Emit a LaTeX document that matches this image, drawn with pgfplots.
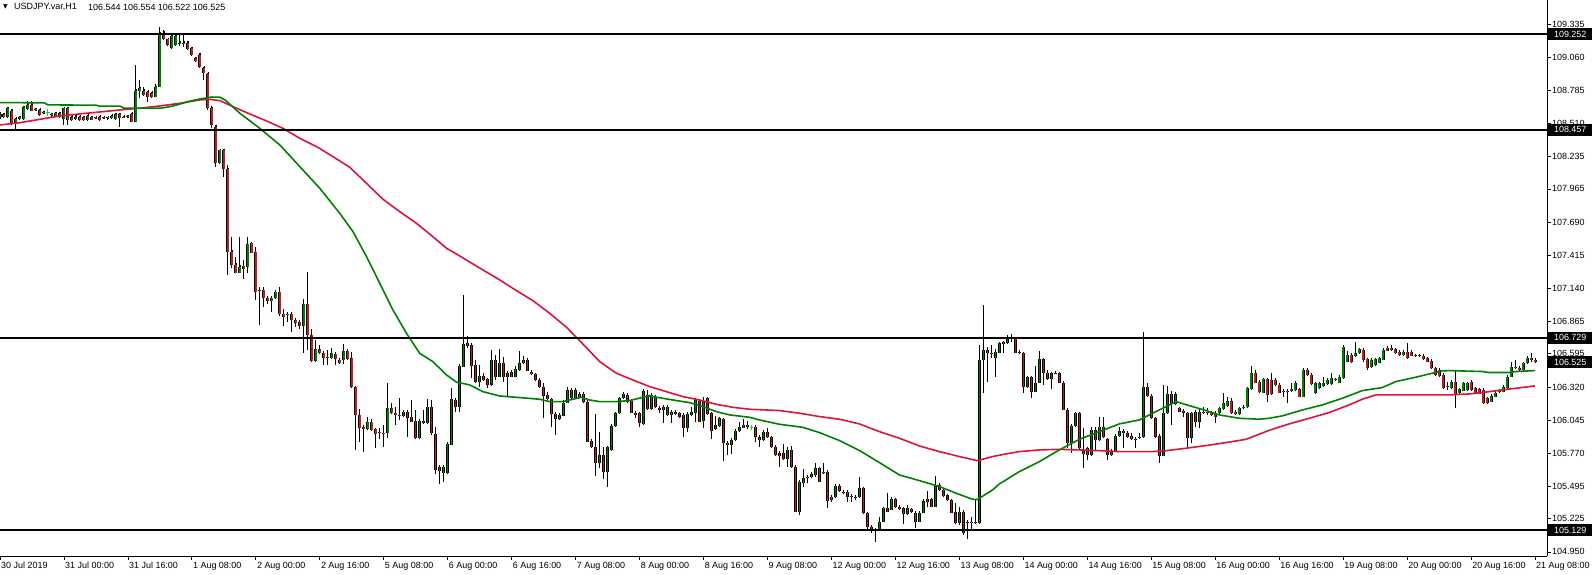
\documentclass[border=0pt]{standalone}
\usepackage{fontspec}
\setmainfont{Liberation Sans}
\newfontfamily\dejavu{DejaVu Sans}
\usepackage{pgfplots}
\pgfplotsset{compat=1.18}
\usepackage{pgfplotstable}

\definecolor{bull}{RGB}{0,128,0}
\definecolor{bear}{RGB}{178,34,34}
\definecolor{maGreen}{RGB}{0,128,0}
\definecolor{maRed}{RGB}{220,20,60}
\definecolor{dojiLime}{RGB}{0,230,0}

% hourly candles, bar 0 = 30 Jul 08:00
\pgfplotstableread{
x o h l c
0 108.565 108.600 108.545 108.585
1 108.585 108.595 108.550 108.560
2 108.560 108.645 108.555 108.635
3 108.615 108.625 108.495 108.510
4 108.510 108.550 108.446 108.546
5 108.546 108.570 108.535 108.560
6 108.548 108.655 108.540 108.643
7 108.626 108.698 108.620 108.662
8 108.662 108.698 108.610 108.615
9 108.620 108.636 108.610 108.626
10 108.621 108.630 108.570 108.579
11 108.600 108.612 108.585 108.594
12 108.597 108.626 108.571 108.597
13 108.585 108.592 108.565 108.576
14 108.566 108.600 108.560 108.593
15 108.593 108.600 108.553 108.560
16 108.546 108.640 108.496 108.635
17 108.635 108.645 108.496 108.538
18 108.540 108.570 108.530 108.565
19 108.565 108.575 108.538 108.545
20 108.565 108.572 108.530 108.538
21 108.560 108.570 108.525 108.538
22 108.540 108.578 108.530 108.571
23 108.560 108.570 108.535 108.541
24 108.552 108.566 108.545 108.560
25 108.565 108.572 108.533 108.538
26 108.553 108.565 108.548 108.560
27 108.560 108.566 108.535 108.557
28 108.550 108.578 108.545 108.571
29 108.543 108.592 108.538 108.585
30 108.585 108.592 108.482 108.557
31 108.557 108.572 108.550 108.566
32 108.565 108.580 108.552 108.569
33 108.588 108.592 108.520 108.524
34 108.524 108.995 108.520 108.781
35 108.781 108.870 108.718 108.800
36 108.781 108.815 108.735 108.745
37 108.773 108.780 108.690 108.731
38 108.765 108.770 108.718 108.726
39 108.731 108.837 108.725 108.809
40 108.815 109.307 108.810 109.257
41 109.263 109.285 109.200 109.208
42 109.208 109.212 109.150 109.161
43 109.133 109.250 109.128 109.238
44 109.161 109.245 109.155 109.238
45 109.175 109.245 109.152 109.180
46 109.180 109.245 109.145 109.174
47 109.180 109.190 109.120 109.124
48 109.133 109.140 109.070 109.078
49 109.050 109.060 109.020 109.025
50 109.078 109.091 108.967 108.981
51 108.973 108.980 108.870 108.926
52 108.920 108.926 108.620 108.635
53 108.635 108.650 108.468 108.496
54 108.482 108.496 108.150 108.180
55 108.180 108.292 108.175 108.288
56 108.288 108.295 108.060 108.128
57 108.128 108.165 107.250 107.444
58 107.444 107.568 107.305 107.333
59 107.333 107.402 107.264 107.270
60 107.270 107.568 107.264 107.319
61 107.322 107.375 107.214 107.300
62 107.314 107.563 107.264 107.508
63 107.513 107.527 107.430 107.436
64 107.444 107.485 107.042 107.112
65 107.120 107.153 106.835 107.128
66 107.125 107.153 106.987 107.056
67 107.060 107.070 107.009 107.037
68 107.037 107.070 106.940 107.060
69 107.056 107.125 107.050 107.112
70 107.106 107.148 106.910 106.926
71 106.930 106.965 106.826 106.900
72 106.915 106.945 106.862 106.922
73 106.926 106.935 106.780 106.880
74 106.880 106.890 106.820 106.854
75 106.862 106.870 106.798 106.826
76 106.826 107.048 106.600 107.009
77 107.009 107.278 106.627 106.752
78 106.752 106.799 106.530 106.538
79 106.538 106.710 106.530 106.632
80 106.632 106.670 106.595 106.600
81 106.605 106.612 106.502 106.558
82 106.566 106.627 106.502 106.558
83 106.558 106.641 106.550 106.599
84 106.594 106.600 106.502 106.550
85 106.544 106.550 106.510 106.516
86 106.544 106.677 106.510 106.621
87 106.621 106.630 106.540 106.549
88 106.558 106.613 106.310 106.317
89 106.317 106.325 105.796 106.087
90 106.087 106.141 105.865 105.976
91 105.990 106.000 105.783 105.968
92 105.968 106.072 105.960 106.031
93 106.031 106.058 105.955 105.962
94 105.968 105.975 105.810 105.930
95 105.944 105.980 105.885 105.938
96 105.940 106.008 105.825 105.936
97 105.935 106.350 105.893 106.143
98 106.143 106.184 106.095 106.100
99 106.100 106.156 106.004 106.087
100 106.090 106.225 106.045 106.083
101 106.080 106.125 106.070 106.115
102 106.115 106.125 105.907 106.060
103 106.068 106.212 106.025 106.031
104 106.040 106.128 105.885 105.893
105 105.893 106.045 105.888 106.040
106 106.020 106.128 106.010 106.040
107 106.020 106.217 106.010 106.150
108 106.150 106.212 105.925 105.935
109 105.930 105.990 105.600 105.630
110 105.658 105.670 105.514 105.625
111 105.603 105.665 105.530 105.658
112 105.603 105.864 105.598 105.846
113 105.840 106.310 105.835 106.217
114 106.212 106.230 106.115 106.151
115 106.151 106.512 106.115 106.495
116 106.489 107.084 106.489 106.677
117 106.688 106.744 106.641 106.660
118 106.669 106.680 106.392 106.495
119 106.503 106.545 106.351 106.364
120 106.364 106.503 106.323 106.411
121 106.410 106.440 106.370 106.380
122 106.384 106.395 106.309 106.337
123 106.337 106.628 106.330 106.544
124 106.544 106.586 106.378 106.406
125 106.406 106.633 106.400 106.517
126 106.517 106.567 106.365 106.400
127 106.400 106.450 106.245 106.439
128 106.447 106.460 106.400 106.406
129 106.406 106.490 106.400 106.467
130 106.461 106.619 106.455 106.517
131 106.517 106.578 106.510 106.544
132 106.544 106.550 106.450 106.456
133 106.445 106.461 106.420 106.425
134 106.425 106.430 106.370 106.378
135 106.378 106.385 106.310 106.317
136 106.317 106.350 106.060 106.245
137 106.254 106.281 106.210 106.218
138 106.218 106.225 105.990 106.096
139 106.096 106.115 105.921 106.052
140 106.052 106.095 106.045 106.088
141 106.082 106.212 106.075 106.190
142 106.190 106.317 106.185 106.295
143 106.295 106.309 106.220 106.226
144 106.226 106.309 106.220 106.295
145 106.262 106.273 106.225 106.234
146 106.262 106.270 106.190 106.198
147 106.198 106.205 105.860 105.866
148 105.872 105.880 105.810 105.819
149 105.819 106.096 105.580 105.686
150 105.686 105.944 105.650 105.755
151 105.755 105.825 105.553 105.617
152 105.617 105.825 105.487 105.819
153 105.797 106.000 105.790 105.996
154 105.996 106.105 105.990 106.101
155 106.101 106.230 106.095 106.226
156 106.226 106.270 106.220 106.262
157 106.254 106.262 106.190 106.198
158 106.207 106.215 106.100 106.107
159 106.107 106.115 106.060 106.088
160 106.101 106.110 105.990 106.018
161 106.013 106.295 106.005 106.287
162 106.254 106.295 106.130 106.135
163 106.135 106.262 106.130 106.254
164 106.240 106.250 106.145 106.151
165 106.149 106.155 106.100 106.130
166 106.157 106.165 106.018 106.130
167 106.088 106.165 106.080 106.157
168 106.115 106.120 106.018 106.088
169 106.096 106.125 106.090 106.115
170 106.101 106.110 106.065 106.074
171 106.088 106.095 105.902 105.983
172 105.977 106.105 105.950 106.096
173 106.088 106.157 106.080 106.115
174 106.107 106.220 106.032 106.212
175 106.207 106.215 106.030 106.032
176 106.040 106.240 105.977 106.207
177 106.226 106.240 106.090 106.096
178 106.101 106.110 105.886 105.957
179 105.968 106.075 105.960 106.004
180 105.996 106.070 105.990 106.060
181 106.052 106.060 105.708 105.852
182 105.858 105.865 105.755 105.836
183 105.836 105.890 105.763 105.880
184 105.880 105.960 105.875 105.955
185 105.955 106.025 105.950 105.991
186 106.004 106.058 105.975 105.983
187 106.000 106.035 105.970 105.985
188 105.985 106.005 105.962 105.985
189 105.991 105.995 105.866 105.902
190 105.908 105.915 105.825 105.880
191 105.880 105.955 105.875 105.949
192 105.949 105.977 105.895 105.902
193 105.902 105.908 105.815 105.819
194 105.825 105.830 105.750 105.756
195 105.772 105.780 105.659 105.750
196 105.775 105.847 105.710 105.719
197 105.719 105.825 105.659 105.797
198 105.797 105.830 105.650 105.659
199 105.659 105.665 105.280 105.285
200 105.285 105.540 105.257 105.534
201 105.526 105.637 105.490 105.562
202 105.575 105.585 105.520 105.562
203 105.570 105.617 105.560 105.598
204 105.589 105.692 105.575 105.645
205 105.645 105.655 105.530 105.534
206 105.617 105.686 105.595 105.603
207 105.617 105.625 105.313 105.376
208 105.409 105.420 105.365 105.382
209 105.404 105.505 105.395 105.498
210 105.498 105.505 105.450 105.459
211 105.450 105.460 105.430 105.437
212 105.450 105.455 105.365 105.404
213 105.415 105.420 105.365 105.404
214 105.410 105.415 105.380 105.405
215 105.404 105.575 105.400 105.479
216 105.479 105.485 105.265 105.271
217 105.271 105.275 105.133 105.160
218 105.160 105.165 105.105 105.133
219 105.133 105.140 105.036 105.130
220 105.133 105.244 105.128 105.202
221 105.202 105.326 105.198 105.313
222 105.313 105.437 105.280 105.285
223 105.299 105.410 105.295 105.387
224 105.387 105.395 105.315 105.321
225 105.322 105.340 105.300 105.310
226 105.313 105.318 105.182 105.266
227 105.266 105.340 105.260 105.313
228 105.304 105.312 105.275 105.280
229 105.277 105.285 105.146 105.202
230 105.202 105.280 105.195 105.277
231 105.277 105.382 105.270 105.373
232 105.387 105.459 105.320 105.368
233 105.387 105.392 105.320 105.326
234 105.326 105.584 105.320 105.506
235 105.506 105.520 105.460 105.465
236 105.465 105.470 105.410 105.415
237 105.421 105.427 105.375 105.380
238 105.380 105.385 105.272 105.277
239 105.285 105.354 105.180 105.188
240 105.188 105.320 105.175 105.285
241 105.285 105.290 105.091 105.105
242 105.195 105.215 105.055 105.200
243 105.200 105.243 105.133 105.197
244 105.197 105.382 105.185 105.199
245 105.194 106.670 105.183 106.545
246 106.545 107.000 106.268 106.628
247 106.628 106.656 106.365 106.600
248 106.600 106.670 106.560 106.590
249 106.558 106.632 106.406 106.614
250 106.606 106.690 106.600 106.683
251 106.690 106.700 106.600 106.680
252 106.683 106.752 106.675 106.725
253 106.733 106.760 106.697 106.728
254 106.724 106.735 106.600 106.605
255 106.614 106.620 106.590 106.600
256 106.600 106.610 106.273 106.317
257 106.317 106.410 106.310 106.400
258 106.400 106.410 106.226 106.281
259 106.281 106.490 106.275 106.356
260 106.356 106.619 106.350 106.550
261 106.550 106.560 106.337 106.434
262 106.434 106.462 106.378 106.384
263 106.384 106.440 106.300 106.434
264 106.440 106.450 106.425 106.430
265 106.434 106.445 106.350 106.356
266 106.356 106.365 106.125 106.129
267 106.129 106.135 105.810 105.852
268 105.852 106.000 105.769 105.996
269 105.996 106.115 105.990 106.101
270 106.101 106.110 105.797 105.811
271 105.791 105.977 105.645 105.764
272 105.811 105.820 105.714 105.755
273 105.755 105.990 105.750 105.963
274 105.963 105.990 105.797 105.880
275 105.880 106.068 105.875 105.991
276 105.991 106.068 105.895 105.902
277 105.885 105.895 105.714 105.755
278 105.755 105.795 105.750 105.791
279 105.783 105.920 105.778 105.913
280 105.913 105.990 105.905 105.957
281 105.957 105.965 105.811 105.935
282 105.940 105.950 105.900 105.907
283 105.913 105.935 105.880 105.885
284 105.885 105.895 105.811 105.890
285 105.895 105.935 105.890 105.905
286 105.902 106.780 105.895 106.317
287 106.317 106.350 106.238 106.245
288 106.245 106.250 106.055 106.060
289 106.060 106.066 105.900 105.907
290 105.913 105.918 105.692 105.750
291 105.750 106.337 105.745 106.107
292 106.101 106.330 106.095 106.262
293 106.262 106.290 106.008 106.180
294 106.180 106.280 106.170 106.262
295 106.143 106.150 106.110 106.115
296 106.124 106.130 106.073 106.101
297 106.101 106.110 105.825 105.894
298 105.894 106.115 105.852 106.101
299 106.115 106.120 105.990 106.032
300 106.032 106.143 105.977 106.115
301 106.115 106.155 106.095 106.105
302 106.110 106.143 106.088 106.107
303 106.107 106.112 106.075 106.090
304 106.107 106.115 106.018 106.070
305 106.101 106.150 106.095 106.143
306 106.135 106.268 106.130 106.184
307 106.162 106.240 106.155 106.207
308 106.207 106.230 106.095 106.107
309 106.115 106.120 106.088 106.093
310 106.093 106.157 106.088 106.143
311 106.143 106.165 106.135 106.157
312 106.151 106.315 106.145 106.309
313 106.301 106.490 106.295 106.434
314 106.434 106.461 106.350 106.356
315 106.365 106.375 106.273 106.281
316 106.273 106.392 106.268 106.384
317 106.384 106.395 106.198 106.254
318 106.380 106.434 106.250 106.262
319 106.379 106.390 106.330 106.337
320 106.337 106.345 106.268 106.273
321 106.290 106.300 106.240 106.280
322 106.285 106.295 106.185 106.290
323 106.290 106.350 106.280 106.300
324 106.296 106.372 106.290 106.356
325 106.301 106.310 106.235 106.240
326 106.240 106.465 106.235 106.461
327 106.461 106.470 106.415 106.420
328 106.420 106.425 106.340 106.345
329 106.268 106.360 106.260 106.351
330 106.310 106.360 106.300 106.351
331 106.329 106.400 106.320 106.356
332 106.345 106.390 106.340 106.378
333 106.345 106.434 106.340 106.392
334 106.380 106.392 106.370 106.384
335 106.356 106.420 106.350 106.406
336 106.392 106.660 106.385 106.655
337 106.531 106.617 106.525 106.586
338 106.586 106.600 106.520 106.531
339 106.573 106.690 106.565 106.606
340 106.606 106.640 106.595 106.633
341 106.628 106.640 106.530 106.545
342 106.550 106.560 106.461 106.476
343 106.489 106.550 106.480 106.545
344 106.503 106.560 106.495 106.550
345 106.522 106.565 106.515 106.558
346 106.545 106.635 106.540 106.628
347 106.642 106.660 106.615 106.622
348 106.628 106.668 106.620 106.640
349 106.633 106.645 106.595 106.600
350 106.614 106.620 106.580 106.586
351 106.586 106.620 106.580 106.614
352 106.614 106.682 106.555 106.559
353 106.614 106.625 106.575 106.578
354 106.585 106.595 106.570 106.575
355 106.575 106.590 106.565 106.582
356 106.578 106.585 106.545 106.550
357 106.559 106.565 106.525 106.531
358 106.539 106.545 106.470 106.476
359 106.476 106.480 106.415 106.420
360 106.461 106.470 106.405 106.412
361 106.420 106.425 106.300 106.309
362 106.330 106.360 106.295 106.325
363 106.309 106.370 106.300 106.365
364 106.365 106.450 106.143 106.254
365 106.268 106.305 106.260 106.301
366 106.290 106.360 106.285 106.351
367 106.296 106.360 106.290 106.351
368 106.365 106.370 106.290 106.296
369 106.309 106.315 106.265 106.273
370 106.301 106.310 106.260 106.265
371 106.296 106.300 106.180 106.190
372 106.226 106.232 106.182 106.190
373 106.198 106.252 106.195 106.246
374 106.240 106.280 106.235 106.273
375 106.275 106.300 106.270 106.290
376 106.282 106.330 106.278 106.323
377 106.309 106.412 106.305 106.406
378 106.406 106.530 106.400 106.489
379 106.478 106.545 106.470 106.484
380 106.480 106.490 106.455 106.460
381 106.461 106.522 106.455 106.517
382 106.517 106.578 106.510 106.558
383 106.558 106.600 106.530 106.540
384 106.544 106.554 106.522 106.525
}\candles

\begin{document}
\begin{tikzpicture}
\begin{axis}[
    at={(0,19bp)}, anchor=south west,
    scale only axis,
    width=1547bp, height=556bp,
    xmin=0, xmax=387,
    ymin=104.916, ymax=109.534,
    clip mode=individual,
    axis x line*=bottom,
    axis y line*=right,
    axis line style={-, black, line width=0.8bp},
    tick align=outside,
    major tick length=4bp,
    tick style={black, line width=0.8bp},
    xtick={0,16,...,384},
    xticklabels={30 Jul 2019, 31 Jul 00:00, 31 Jul 16:00, 1 Aug 08:00, 2 Aug 00:00, 2 Aug 16:00, 5 Aug 08:00, 6 Aug 00:00, 6 Aug 16:00, 7 Aug 08:00, 8 Aug 00:00, 8 Aug 16:00, 9 Aug 08:00, 12 Aug 00:00, 12 Aug 16:00, 13 Aug 08:00, 14 Aug 00:00, 14 Aug 16:00, 15 Aug 08:00, 16 Aug 00:00, 16 Aug 16:00, 19 Aug 08:00, 20 Aug 00:00, 20 Aug 16:00, 21 Aug 08:00},
    xticklabel style={anchor=north west, inner sep=0pt, xshift=1bp, yshift=-2bp, font=\fontsize{9}{10}\selectfont},
    ytick={104.950,105.225,105.495,105.770,106.045,106.320,106.595,106.865,107.140,107.415,107.690,107.965,108.235,108.510,108.785,109.060,109.335},
    yticklabels={104.950,105.225,105.495,105.770,106.045,106.320,106.595,106.865,107.140,107.415,107.690,107.965,108.235,108.510,108.785,109.060,109.335},
    yticklabel pos=right,
    yticklabel style={anchor=west, inner sep=0pt, xshift=1bp, font=\fontsize{9}{10}\selectfont},
]

% wicks (all but the flat doji bars)
\addplot[draw=none, mark=none,
    restrict expr to domain={abs(\thisrow{c}-\thisrow{o})}{0.0001:10},
    error bars/.cd, y dir=plus, y explicit, error mark=none,
    error bar style={draw=black, line width=1bp}]
    table[x=x, y=l, y error plus expr=\thisrow{h}-\thisrow{l}] {\candles};

% bull bodies: outline then fill
\addplot[draw=none, mark=none,
    restrict expr to domain={\thisrow{c}-\thisrow{o}}{0.0001:10},
    error bars/.cd, y dir=plus, y explicit, error mark=-,
    error mark options={draw=black, line width=0.7bp, mark size=1.5bp},
    error bar style={draw=black, line width=3bp}]
    table[x=x, y=o, y error plus expr=\thisrow{c}-\thisrow{o}] {\candles};
\addplot[draw=none, mark=none,
    restrict expr to domain={\thisrow{c}-\thisrow{o}}{0.0001:10},
    error bars/.cd, y dir=plus, y explicit, error mark=none,
    error bar style={draw=bull, line width=1.5bp}]
    table[x=x, y=o, y error plus expr=\thisrow{c}-\thisrow{o}] {\candles};

% bear bodies: outline then fill
\addplot[draw=none, mark=none,
    restrict expr to domain={\thisrow{o}-\thisrow{c}}{0.0001:10},
    error bars/.cd, y dir=plus, y explicit, error mark=-,
    error mark options={draw=black, line width=0.7bp, mark size=1.5bp},
    error bar style={draw=black, line width=3bp}]
    table[x=x, y=c, y error plus expr=\thisrow{o}-\thisrow{c}] {\candles};
\addplot[draw=none, mark=none,
    restrict expr to domain={\thisrow{o}-\thisrow{c}}{0.0001:10},
    error bars/.cd, y dir=plus, y explicit, error mark=none,
    error bar style={draw=bear, line width=1.5bp}]
    table[x=x, y=c, y error plus expr=\thisrow{o}-\thisrow{c}] {\candles};

% flat doji bars
\addplot[draw=none, mark=none,
    restrict expr to domain={abs(\thisrow{c}-\thisrow{o})}{0:0.00005},
    error bars/.cd, y dir=plus, y explicit, error mark=none,
    error bar style={draw=dojiLime, line width=1bp}]
    table[x=x, y=l, y error plus expr=\thisrow{h}-\thisrow{l}] {\candles};
\addplot[only marks, mark=-, mark size=1.6bp, mark options={draw=dojiLime, line width=1bp},
    restrict expr to domain={abs(\thisrow{c}-\thisrow{o})}{0:0.00005}]
    table[x=x, y=o] {\candles};

% slow moving average
\addplot[maRed, line width=1.6bp, no markers] coordinates {
(0,108.496) (5,108.515) (10,108.543) (15,108.571) (20,108.588) (25,108.604)
(30,108.621) (35,108.635) (40,108.654) (45,108.676) (50,108.704) (52.5,108.709)
(55,108.698) (58.3,108.648) (62.5,108.587) (66.7,108.529) (70.8,108.468)
(75,108.385) (79.2,108.316) (83.3,108.233) (87.5,108.144) (91.7,108.011)
(95.8,107.879) (100,107.776) (104.2,107.679) (108.3,107.568) (111.7,107.472)
(115,107.408) (120.8,107.292) (125,107.209) (129.2,107.120) (133.3,107.037)
(137.5,106.932) (141.7,106.816) (145.8,106.677) (150,106.531) (154.2,106.434)
(158.3,106.378) (162.5,106.323) (166.7,106.281) (170.8,106.240) (175,106.212)
(179.2,106.176) (183.3,106.151) (187.5,106.135) (195,106.124) (200,106.102)
(205,106.074) (210,106.052) (215,106.013) (220,105.949) (225,105.894)
(230,105.830) (235,105.783) (240,105.742) (244.5,105.708) (248.3,105.742)
(251.7,105.764) (255,105.783) (260,105.797) (265,105.802) (270,105.797)
(275,105.791) (280,105.783) (288.3,105.783) (291.7,105.791) (296.7,105.811)
(301.7,105.833) (306.7,105.858) (311.7,105.885) (317.5,105.960) (322.5,106.013)
(327.5,106.060) (332.5,106.107) (337.5,106.171) (340.8,106.218) (344.2,106.254)
(362.5,106.254) (367.5,106.262) (370.8,106.273) (375.8,106.296) (379.2,106.309)
(384,106.329)
};

% fast moving average
\addplot[maGreen, line width=1.6bp, no markers] coordinates {
(0,108.682) (11,108.680) (12,108.663) (24,108.660) (25,108.652) (30,108.652)
(31,108.636) (40,108.635) (42,108.645) (44,108.660) (47,108.690) (50,108.712)
(53,108.728) (55,108.726) (56.3,108.704) (60,108.593) (65,108.468) (70,108.330)
(75,108.150) (80,107.970) (85,107.762) (88.3,107.610) (91.7,107.402)
(95,107.181) (98.3,106.959) (101.7,106.765) (105,106.599) (108.3,106.530)
(111.7,106.420) (114.2,106.360) (117.5,106.337) (120.8,106.281) (125,106.245)
(129.2,106.234) (135,106.218) (137.5,106.198) (140.8,106.198) (143.3,106.218)
(145.4,106.234) (147.5,106.212) (150,106.198) (154.2,106.198) (157.5,106.207)
(160.8,106.234) (162.5,106.245) (165.8,106.226) (169.2,106.207) (172.5,106.190)
(175.8,106.157) (179.2,106.115) (182.5,106.088) (187.5,106.068) (190,106.046)
(195,106.010) (200.8,105.985) (205,105.941) (210,105.875) (215,105.792)
(220,105.692) (225,105.589) (230,105.542) (235,105.493) (239.2,105.437)
(243.3,105.387) (244.5,105.385) (248.3,105.465) (250,105.514) (255,105.617)
(260,105.700) (265,105.797) (270,105.885) (275,105.949) (280,106.013)
(285,106.046) (290,106.129) (294.2,106.198) (298.3,106.157) (301.7,106.124)
(305,106.088) (310,106.060) (315,106.052) (317.5,106.060) (320.8,106.080)
(325.8,106.129) (330.8,106.171) (335.8,106.226) (340.8,106.290) (345.8,106.315)
(349.2,106.365) (354.2,106.401) (357.5,106.428) (360.8,106.453) (362.5,106.456)
(370.8,106.448) (372.5,106.440) (377.5,106.440) (379.2,106.448) (384,106.456)
};

% horizontal levels
\addplot[black, line width=2bp, no markers] coordinates {(0,109.252) (387,109.252)};
\addplot[black, line width=2bp, no markers] coordinates {(0,108.457) (387,108.457)};
\addplot[black, line width=2bp, no markers] coordinates {(0,106.729) (387,106.729)};
\addplot[black, line width=2bp, no markers] coordinates {(0,105.129) (387,105.129)};

\coordinate (p1) at (axis cs:387,109.252);
\coordinate (p2) at (axis cs:387,108.457);
\coordinate (p3) at (axis cs:387,106.729);
\coordinate (p4) at (axis cs:387,106.525);
\coordinate (p5) at (axis cs:387,105.129);
\end{axis}

\tikzset{pricebox/.style={fill=black, text=white, anchor=west, minimum width=44bp, minimum height=12bp, inner sep=0pt, font=\fontsize{9}{10}\selectfont}}
\node[pricebox] at ([xshift=1bp]p1) {109.252};
\node[pricebox] at ([xshift=1bp]p2) {108.457};
\node[pricebox] at ([xshift=1bp]p3) {106.729};
\node[pricebox] at ([xshift=1bp]p4) {106.525};
\node[pricebox] at ([xshift=1bp]p5) {105.129};

\node[anchor=center, inner sep=0pt] at (5.5bp,568bp) {\dejavu\fontsize{6}{7}\selectfont ▼};
\node[anchor=west, inner sep=0pt, font=\fontsize{9}{10}\selectfont] at (14bp,568bp) {USDJPY.var,H1};
\node[anchor=west, inner sep=0pt, font=\fontsize{9}{10}\selectfont] at (88bp,568bp) {106.544 106.554 106.522 106.525};

\pgfresetboundingbox
\path[use as bounding box] (0,0) rectangle (1592bp,575bp);
\end{tikzpicture}
\end{document}
